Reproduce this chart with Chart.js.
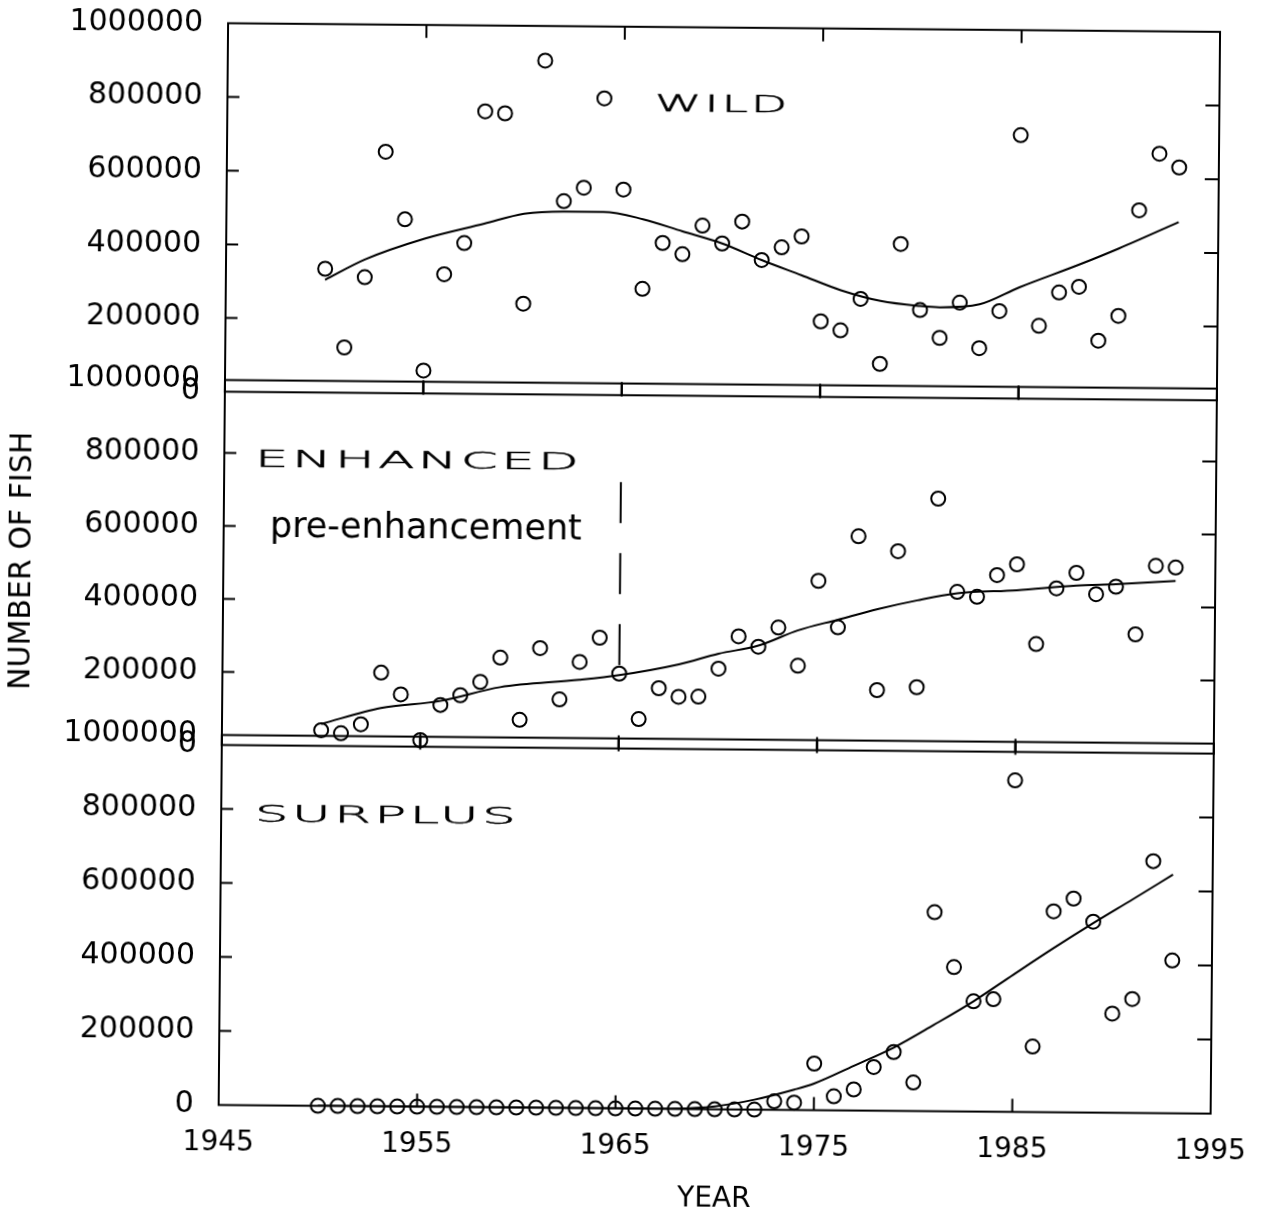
<!DOCTYPE html>
<html>
<head>
<meta charset="utf-8">
<script src="https://cdn.jsdelivr.net/npm/chart.js@4.4.1/dist/chart.umd.min.js"></script>
<style>
  html, body { margin: 0; padding: 0; background: #fff; }
  #page {
    position: relative;
    width: 1273px;
    height: 1218px;
    transform: rotate(0.5deg);
    transform-origin: 636px 609px;
  }
  #page canvas { position: absolute; left: 0; }
</style>
</head>
<body>
<div id="page">
  <canvas id="chartWild" width="1273" height="420" style="top:0px"></canvas>
  <canvas id="chartEnhanced" width="1273" height="420" style="top:360px"></canvas>
  <canvas id="chartSurplus" width="1273" height="503" style="top:715px"></canvas>
</div>
<script>
// years with observations
const years = [
  1950, 1951, 1952, 1953, 1954, 1955, 1956, 1957, 1958, 1959,
  1960, 1961, 1962, 1963, 1964, 1965, 1966, 1967, 1968, 1969,
  1970, 1971, 1972, 1973, 1974, 1975, 1976, 1977, 1978, 1979,
  1980, 1981, 1982, 1983, 1984, 1985, 1986, 1987, 1988, 1989,
  1990, 1991, 1992, 1993,
]

const wild = [
  336000, 123000, 314000, 655000, 472000, 62000, 324000, 409000, 767000, 762000,
  246000, 906000, 525000, 562000, 805000, 558000, 289000, 414000, 384000, 462000,
  414000, 474000, 370000, 405000, 435000, 205000, 181000, 267000, 91000, 417000,
  238000, 163000, 259000, 136000, 237000, 715000, 198000, 289000, 305000, 159000,
  227000, 514000, 668000, 631000,
]

const enhanced = [
  43000, 35000, 60000, 202000, 143000, 18000, 115000, 142000, 179000, 246000,
  76000, 273000, 133000, 236000, 303000, 205000, 81000, 166000, 143000, 144000,
  221000, 310000, 282000, 335000, 231000, 464000, 337000, 587000, 166000, 547000,
  175000, 692000, 437000, 424000, 484000, 514000, 296000, 449000, 492000, 434000,
  455000, 325000, 513000, 509000,
]

const surplus = [
  0, 0, 0, 0, 0, 0, 0, 0, 0, 0,
  0, 0, 0, 0, 0, 0, 0, 0, 0, 0,
  0, 0, 0, 23000, 20000, 126000, 38000, 57000, 118000, 159000,
  77000, 538000, 390000, 298000, 304000, 896000, 177000, 543000, 578000, 516000,
  268000, 308000, 681000, 413000,
]

// smoothed trend curves
const wildTrendYears = [1950, 1952, 1955, 1958, 1960, 1962, 1964, 1966, 1968, 1970, 1972, 1974, 1976, 1978, 1980, 1981, 1983, 1985, 1988, 1990, 1993]
const wildTrend = [306000, 362000, 420000, 462000, 490000, 497000, 497000, 478000, 446000, 414000, 370000, 330000, 290000, 262000, 249000, 246000, 255000, 302000, 365000, 410000, 483000]

const enhTrendYears = [1950, 1953, 1956, 1959, 1963, 1965, 1968, 1970, 1972, 1974, 1976, 1978, 1980, 1982, 1985, 1988, 1990, 1993]
const enhTrend = [60000, 105000, 126000, 165000, 187000, 201000, 232000, 262000, 285000, 328000, 358000, 388000, 413000, 433000, 443000, 457000, 462000, 472000]

const surTrendYears = [1950, 1966, 1968, 1970, 1972, 1974, 1975, 1977, 1979, 1981, 1983, 1985, 1987, 1989, 1991, 1993]
const surTrend = [0, 0, 1000, 8000, 27000, 55000, 72000, 121000, 171000, 233000, 298000, 371000, 443000, 512000, 578000, 645000]

// pre-enhancement marker
const preEnhYears = [1965, 1965]
const preEnhValues = [730000, 226000]

// inner tick marks
const yInnerTicks = [200000, 400000, 600000, 800000]
const xInnerTicks = [1955, 1965, 1975, 1985]

const FONT = "'DejaVu Sans', sans-serif"

function toPoints(xs, ys) {
  return xs.map((x, i) => ({ x: x, y: ys[i] }))
}

const framePlugin = {
  id: "frame",
  afterDatasetsDraw(chart, args, opts) {
    const ctx = chart.ctx
    const a = chart.chartArea
    const x = chart.scales.x
    const y = chart.scales.y
    ctx.save()
    ctx.strokeStyle = "#000"
    ctx.lineWidth = 2
    ctx.strokeRect(a.left, a.top, a.right - a.left, a.bottom - a.top)
    ctx.beginPath()
    yInnerTicks.forEach((v) => {
      const py = y.getPixelForValue(v)
      ctx.moveTo(a.left, py)
      ctx.lineTo(a.left + 12, py)
      ctx.moveTo(a.right - 14, py)
      ctx.lineTo(a.right, py)
    })
    xInnerTicks.forEach((t) => {
      const px = x.getPixelForValue(t)
      ctx.moveTo(px, a.top)
      ctx.lineTo(px, a.top + 13)
      ctx.moveTo(px, a.bottom)
      ctx.lineTo(px, a.bottom - 13)
    })
    ctx.stroke()

    ctx.fillStyle = "#000"
    ctx.textBaseline = "alphabetic"
    ctx.textAlign = "left"
    ;(opts.labels || []).forEach((lb) => {
      ctx.save()
      ctx.translate(x.getPixelForValue(lb.year), y.getPixelForValue(lb.value))
      ctx.scale(lb.stretch, 1)
      ctx.font = lb.font
      ctx.letterSpacing = lb.spacing
      ctx.fillText(lb.text, 0, 0)
      if (lb.outline) {
        ctx.lineWidth = lb.outline
        ctx.strokeText(lb.text, 0, 0)
      }
      ctx.restore()
    })
    ctx.restore()
  },
}

function makeChart(id, datasets, opts) {
  return new Chart(document.getElementById(id).getContext("2d"), {
    type: "scatter",
    data: { datasets: datasets },
    options: {
      responsive: false,
      animation: false,
      layout: {
        padding: { left: 0, right: 58, top: opts.top, bottom: opts.bottom },
      },
      plugins: {
        legend: { display: false },
        tooltip: { enabled: false },
        frame: { labels: opts.labels },
      },
      scales: {
        x: {
          type: "linear",
          min: 1945,
          max: 1995,
          display: opts.showX,
          grid: { display: false, drawTicks: true, tickLength: 21 },
          border: { display: false },
          ticks: {
            stepSize: 10,
            padding: 0,
            color: "#000",
            font: { family: FONT, size: 28 },
            callback: (v) => String(v),
          },
          title: {
            display: opts.showX,
            text: "YEAR",
            color: "#000",
            font: { family: FONT, size: 28 },
            padding: { top: 0, bottom: 2 },
          },
          afterFit: (s) => {
            if (opts.showX) s.height = opts.xHeight
          },
        },
        y: {
          min: 0,
          max: 1000000,
          grid: { display: false, drawTicks: true, tickLength: 25 },
          border: { display: false },
          ticks: {
            stepSize: 200000,
            padding: 0,
            color: "#000",
            font: { family: FONT, size: 30 },
            callback: (v) => String(v),
          },
          title: {
            display: !!opts.yTitle,
            text: opts.yTitle || "",
            color: "#000",
            font: { family: FONT, size: 30 },
            padding: { top: 4, bottom: 0 },
          },
          afterFit: (s) => {
            s.width = 223
          },
        },
      },
    },
    plugins: [framePlugin],
  })
}

function pointSet(values) {
  return {
    data: toPoints(years, values),
    showLine: false,
    pointRadius: 7,
    pointBorderWidth: 2,
    pointBorderColor: "#000",
    pointBackgroundColor: "rgba(0,0,0,0)",
    clip: false,
  }
}

function trendSet(xs, ys) {
  return {
    data: toPoints(xs, ys),
    showLine: true,
    borderColor: "#000",
    borderWidth: 2,
    pointRadius: 0,
    cubicInterpolationMode: "monotone",
  }
}

const panelFont = "200 23px " + FONT

let chartWild = makeChart("chartWild", [pointSet(wild), trendSet(wildTrendYears, wildTrend)], {
  top: 26.8,
  bottom: 24.7,
  showX: false,
  labels: [{ text: "WILD", year: 1966.55, value: 771000, font: panelFont, stretch: 2.05, spacing: "1.5px", outline: 0.5 }],
})

let chartEnhanced = makeChart(
  "chartEnhanced",
  [
    pointSet(enhanced),
    trendSet(enhTrendYears, enhTrend),
    {
      data: toPoints(preEnhYears, preEnhValues),
      showLine: true,
      borderColor: "#000",
      borderWidth: 2,
      borderDash: [41, 30],
      pointRadius: 0,
    },
  ],
  {
    top: 23.6,
    bottom: 31.4,
    showX: false,
    yTitle: "NUMBER OF FISH",
    labels: [
      { text: "ENHANCED", year: 1946.55, value: 764000, font: panelFont, stretch: 2.3, spacing: "1.5px", outline: 0.5 },
      { text: "pre-enhancement", year: 1947.33, value: 571000, font: "35px " + FONT, stretch: 1, spacing: "0px" },
    ],
  }
)

let chartSurplus = makeChart("chartSurplus", [pointSet(surplus), trendSet(surTrendYears, surTrend)], {
  top: 23.6,
  bottom: 0,
  showX: true,
  xHeight: 109.4,
  labels: [{ text: "SURPLUS", year: 1946.7, value: 767000, font: panelFont, stretch: 2.3, spacing: "1.5px", outline: 0.5 }],
})
</script>
</body>
</html>
